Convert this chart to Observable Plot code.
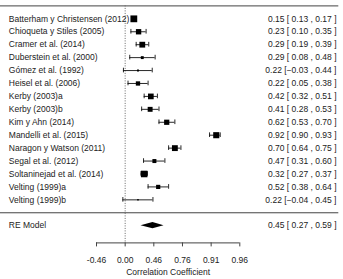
<!DOCTYPE html>
<html><head><meta charset="utf-8">
<script src="https://cdn.jsdelivr.net/npm/d3@7"></script>
<script src="https://cdn.jsdelivr.net/npm/@observablehq/plot@0.6"></script>
<style>html,body{margin:0;padding:0;background:#fff} svg{display:block}</style>
</head><body><div id="chart"></div>
<script>
// ---- data ----
const studies = ["Batterham y Christensen (2012)", "Chioqueta y Stiles (2005)", "Cramer et al. (2014)", "Duberstein et al. (2000)", "Gómez et al. (1992)", "Heisel et al. (2006)", "Kerby (2003)a", "Kerby (2003)b", "Kim y Ahn (2014)", "Mandelli et al. (2015)", "Naragon y Watson (2011)", "Segal et al. (2012)", "Soltaninejad et al. (2014)", "Velting (1999)a", "Velting (1999)b"];
const estimates = [0.15, 0.23, 0.29, 0.29, 0.22, 0.22, 0.42, 0.41, 0.62, 0.92, 0.70, 0.47, 0.32, 0.52, 0.22];
const lower     = [0.13, 0.10, 0.19, 0.08, -0.03, 0.05, 0.32, 0.28, 0.53, 0.90, 0.64, 0.31, 0.27, 0.38, -0.04];
const upper     = [0.17, 0.35, 0.39, 0.48, 0.44, 0.38, 0.51, 0.53, 0.70, 0.93, 0.75, 0.60, 0.37, 0.64, 0.45];
const modelLabel = "RE Model";
const modelEstimate = 0.45, modelLower = 0.27, modelUpper = 0.59;
const tickZ = [-0.5, 0, 0.5, 1, 1.5, 2];              // Fisher-z tick positions
const tickLabels = ["-0.46", "0.00", "0.46", "0.76", "0.91", "0.96"];
const axisLabel = "Correlation Coefficient";

// ---- derived ----
const k = studies.length;
const fmt = d3.format(".2f");
const z = Math.atanh;
const rows = studies.map((s, i) => ({label: s, est: estimates[i], lo: lower[i], hi: upper[i], row: i + 1}));
// square sizes from random-effects weights
const zc = 1.959964;
const vi = rows.map(d => ((z(d.hi) - z(d.lo)) / (2 * zc)) ** 2);
const seRE = (z(modelUpper) - z(modelLower)) / (2 * zc);
let lo = 0, hi = 2;
for (let it = 0; it < 100; it++) {
  const m = (lo + hi) / 2;
  if (d3.sum(vi, v => 1 / (v + m)) > 1 / seRE ** 2) lo = m; else hi = m;
}
const tau2 = (lo + hi) / 2;
const w = vi.map(v => 1 / (v + tau2));
const [wmin, wmax] = d3.extent(w);
rows.forEach((d, i) => { d.side = 1.5 + 5.3 * (w[i] - wmin) / (wmax - wmin); });

const ciText = (e, l, u) => `${fmt(e)} [${l < 0 ? "" : " "}${fmt(l)} , ${fmt(u)} ]`;
const sepRow = k + 1, reRow = k + 2, bottomRow = k + 3.33;
const diamond = [{v: modelLower, h: 0}, {v: modelEstimate, h: 0.24}, {v: modelUpper, h: 0}];
const fs = 8.5;
const ink = "#222";

const chart = Plot.plot({
  width: 343, height: 279,
  marginLeft: 0, marginRight: 4.7, marginTop: 5.4, marginBottom: 36.6,
  style: {fontFamily: "'Liberation Sans', Arial, sans-serif", fontSize: fs + "px", background: "#fff", color: ink},
  x: {domain: [-2.1748, 3.7271], axis: null},
  y: {domain: [0, bottomRow], reverse: true, axis: null},
  r: {type: "identity"},
  marks: [
    Plot.ruleY([0, sepRow], {stroke: "#444", strokeWidth: 1}),
    Plot.ruleX([0], {y1: 0, y2: bottomRow, stroke: "#666", strokeDasharray: "1,1.5"}),
    Plot.ruleY(rows, {y: "row", x1: d => z(d.lo), x2: d => z(d.hi), stroke: "#111", strokeWidth: 0.9}),
    Plot.ruleX(rows, {x: d => z(d.lo), y1: d => d.row - 0.18, y2: d => d.row + 0.18, stroke: "#111", strokeWidth: 0.9}),
    Plot.ruleX(rows, {x: d => z(d.hi), y1: d => d.row - 0.18, y2: d => d.row + 0.18, stroke: "#111", strokeWidth: 0.9}),
    Plot.dot(rows, {x: d => z(d.est), y: "row", r: d => d.side / Math.sqrt(Math.PI), symbol: "square", fill: "#000", stroke: "none"}),
    Plot.areaY(diamond, {x: d => z(d.v), y1: d => reRow - d.h, y2: d => reRow + d.h, fill: "#000"}),
    Plot.text(rows, {y: "row", text: "label", frameAnchor: "left", textAnchor: "start", dx: 8.3, fontSize: fs, fill: ink}),
    Plot.text([modelLabel], {y: reRow, text: d => d, frameAnchor: "left", textAnchor: "start", dx: 8.3, fontSize: fs, fill: ink}),
    Plot.text(rows, {y: "row", text: d => ciText(d.est, d.lo, d.hi), frameAnchor: "right", textAnchor: "end", dx: -2.3, fontSize: fs, fill: ink}),
    Plot.text([modelEstimate], {y: reRow, text: () => ciText(modelEstimate, modelLower, modelUpper), frameAnchor: "right", textAnchor: "end", dx: -2.3, fontSize: fs, fill: ink}),
    Plot.ruleY([bottomRow], {x1: d3.min(tickZ), x2: d3.max(tickZ), stroke: "#444"}),
    Plot.axisX(tickZ, {tickFormat: d => tickLabels[tickZ.indexOf(d)], tickSize: 4, tickPadding: 10, fontSize: fs, stroke: "#444", fill: ink, label: null}),
    Plot.text([axisLabel], {x: d3.mean(d3.extent(tickZ)), text: d => d, frameAnchor: "bottom", dy: 31.9, fontSize: fs, fill: ink})
  ]
});
document.getElementById("chart").appendChild(chart);
</script>
</body></html>
